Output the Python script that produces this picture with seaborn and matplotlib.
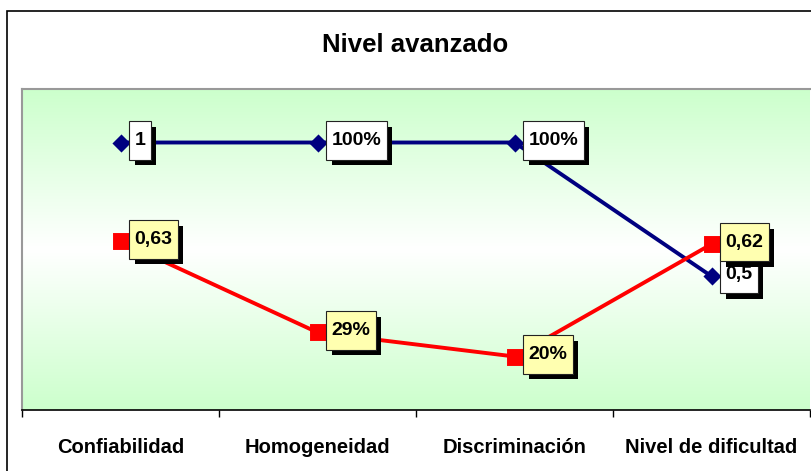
import numpy as np
import matplotlib
matplotlib.use('Agg')
import matplotlib.pyplot as plt
import matplotlib.patheffects as pe
from matplotlib.patches import Rectangle
from matplotlib.path import Path
import seaborn as sns

# Chart data
categories = ['Confiabilidad', 'Homogeneidad', 'Discriminación', 'Nivel de dificultad']
blue_values = [1.0, 1.0, 1.0, 0.5]
red_values = [0.63, 0.29, 0.20, 0.62]
blue_labels = ['1', '100%', '100%', '0,5']
red_labels = ['0,63', '29%', '20%', '0,62']

sns.set_style('white')
plt.rcParams['font.family'] = ['Liberation Sans', 'DejaVu Sans']
plt.rcParams['text.color'] = 'black'
plt.rcParams['xtick.color'] = 'black'

W, H = 811, 471
fig = plt.figure(figsize=(W / 100, H / 100), dpi=100)
ax = fig.add_axes([22 / W, 1 - 410 / H, 788 / W, (410 - 89) / H])

# Green -> white -> green background of the plot area
green = np.array([0.80, 1.0, 0.80])
t = np.abs(np.linspace(-1, 1, 256))[:, None]
grad = (1 - t) * np.ones(3) + t * green
ax.imshow(grad.reshape(256, 1, 3), extent=[-0.5, 3.5, 0, 1.2],
          aspect='auto', zorder=0, interpolation='bilinear')

sns.pointplot(x=categories, y=blue_values, color='#000080', markers='D',
              errorbar=None, markersize=6.8, linewidth=2.8, ax=ax)
sns.pointplot(x=categories, y=red_values, color='#ff0000', markers='s',
              errorbar=None, markersize=10.5, linewidth=2.8, ax=ax)


def tall_box(x0, y0, width, height, mutation_size):
    # label box with more room above and below than at the sides
    px, py = 0.27 * mutation_size, 0.55 * mutation_size
    x0, y0 = x0 - px, y0 - py
    x1, y1 = x0 + width + 2 * px, y0 + height + 2 * py
    return Path([(x0, y0), (x1, y0), (x1, y1), (x0, y1), (x0, y0)], closed=True)


def add_labels(values, labels, face, z):
    for i, (v, lab) in enumerate(zip(values, labels)):
        txt = ax.annotate(lab, (i, v), xytext=(14, 2), textcoords='offset pixels',
                          ha='left', va='center', fontsize=14, fontweight='bold',
                          bbox=dict(boxstyle=tall_box, fc=face, ec='#222222', lw=0.8),
                          zorder=z)
        txt.get_bbox_patch().set_path_effects(
            [pe.withSimplePatchShadow(offset=(4, -4), shadow_rgbFace='black', alpha=1.0)])


add_labels(blue_values, blue_labels, 'white', 6)
add_labels(red_values, red_labels, '#ffffb0', 7)

ax.set_xlim(-0.5, 3.5)
ax.set_ylim(0, 1.2)
ax.set_xlabel('')
ax.set_ylabel('')
ax.set_yticks([])

# ticks at category boundaries, labels at centers
ax.set_xticks(np.arange(-0.5, 4, 1))
ax.set_xticklabels([])
ax.set_xticks(np.arange(len(categories)), minor=True)
ax.set_xticklabels(categories, minor=True, fontsize=14.5, fontweight='bold')
ax.tick_params(axis='x', which='major', direction='out', length=5, width=1, color='black', bottom=True)
ax.tick_params(axis='x', which='minor', length=0, pad=20)

for side in ['left', 'top']:
    ax.spines[side].set_color('#999999')
    ax.spines[side].set_linewidth(1.5)
ax.spines['right'].set_visible(False)
ax.spines['bottom'].set_color('black')
ax.spines['bottom'].set_linewidth(1.2)

fig.text(415 / W, 1 - 45 / H, 'Nivel avanzado', ha='center', va='center',
         fontsize=18.5, fontweight='bold')

# outer chart frame
fig.add_artist(Rectangle((7 / W, -0.5), 2, 1.5 - 11 / H, transform=fig.transFigure,
                         fill=False, ec='black', lw=1.2))

fig.savefig('out.png', dpi=100)
